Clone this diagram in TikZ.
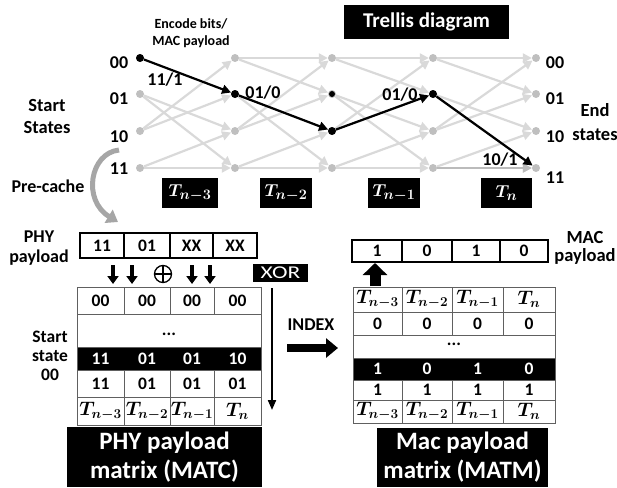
\documentclass[tikz,border=0pt]{standalone}
\usepackage{amsmath,bm}
\usepackage{fontspec}
\setmainfont{Carlito}
\usetikzlibrary{arrows.meta}
\definecolor{edgegray}{HTML}{D9D9D9}
\definecolor{dotgray}{HTML}{BFBFBF}
\definecolor{midgray}{HTML}{BBBBBB}
\definecolor{linegray}{HTML}{606060}
\definecolor{cachegray}{HTML}{A6A6A6}
\newcommand{\fs}[1]{\fontsize{#1}{#1}\selectfont}
\newcommand{\tT}[1]{\scalebox{1.13}{$\bm{T_{#1}}$}}
\tikzset{
  lbl/.style={font=\fs{18}\bfseries, inner sep=0},
  biglbl/.style={font=\fontsize{18}{20}\selectfont\bfseries, inner sep=0, align=center},
  gdot/.style={circle, fill=dotgray, minimum size=8pt, inner sep=0},
  bdot/.style={circle, fill=black, minimum size=8pt, inner sep=0},
  gedge/.style={draw=edgegray, line width=2.2pt, -{Triangle[length=9pt,width=9pt]}},
  bedge/.style={draw=black, line width=2.2pt, -{Triangle[length=9pt,width=9pt]}},
  tbox/.style={fill=black, text=white, inner sep=0, minimum height=30pt, font=\fs{19}},
  pcell/.style={draw=black, line width=2.5pt, inner sep=0, font=\fs{17.5}\bfseries},
  mline/.style={draw=linegray, line width=1pt},
  celltxt/.style={inner sep=0, font=\fs{17.5}\bfseries},
  ttxt/.style={inner sep=0, font=\fs{17.28}},
  darrow/.style={line width=3.5pt, -{Triangle[length=8pt,width=11pt]}},
  bigbox/.style={fill=black, text=white, inner sep=0, align=center, font=\fontsize{25}{29}\selectfont\bfseries}
}
\begin{document}
\begin{tikzpicture}[x=1pt,y=-1pt]
\useasboundingbox (0,0) rectangle (617,487);
% ---------- Trellis ----------
\foreach \c/\x in {0/140,1/235,2/332,3/433,4/536}
  \foreach \r/\y in {0/58,1/94,2/131,3/168}
    \node[gdot] (n\c\r) at (\x,\y) {};
% stage 0 (no 00->00)
\foreach \a/\b in {1/2,1/3,2/0,2/1,3/2,3/3}
  \draw[gedge] (n0\a) -- (n1\b);
\foreach \c/\d in {1/2,2/3,3/4}
  \foreach \a/\b in {0/0,0/1,1/2,1/3,2/0,2/1,3/2,3/3}
    \draw[gedge] (n\c\a) -- (n\d\b);
\draw[gedge, draw=midgray] (n33) -- (n43);
% black path
\node[bdot] at (n00) {};
\node[bdot] at (n11) {};
\node[bdot] at (n22) {};
\node[bdot] at (n31) {};
\node[bdot, minimum size=6pt] at (n21) {};
\draw[bedge] (n00) -- (n11);
\draw[bedge] (n11) -- (n22);
\draw[bedge] (n22) -- (n31);
\draw[bedge] (n31) -- (n43);
% edge labels
\node[lbl] (l1) at (165,80) {11/1};
\node[lbl] (l2) at (263,93) {01/0};
\node[lbl] (l3) at (400,95) {01/0};
\node[lbl] (l4) at (500,160) {10/1};
% state labels
\foreach \t/\y [count=\i] in {00/63,01/99,10/137,11/169}
  \node[lbl] (ls\i) at (119,\y) {\t};
\foreach \t/\y [count=\i] in {00/63,01/99,10/137,11/178}
  \node[lbl] (le\i) at (555,\y) {\t};
\node[biglbl, font=\fontsize{18.5}{22}\selectfont\bfseries] (st) at (47,117) {Start\\States};
\node[biglbl, font=\fontsize{18.5}{24}\selectfont\bfseries] (en) at (595,122) {End\\states};
\node[biglbl, font=\fontsize{14}{17}\selectfont\bfseries] (enc) at (191,33) {Encode bits/\\MAC payload};
\node[fill=black, text=white, inner sep=0, minimum width=165pt, minimum height=34pt, font=\fs{21}\bfseries] (tr) at (426.5,22) {Trellis diagram};
% T boxes
\node[tbox, minimum width=56pt] (t1) at (190,193) {$\bm{T_{n-3}}$};
\node[tbox, minimum width=52pt] (t2) at (286,193) {$\bm{T_{n-2}}$};
\node[tbox, minimum width=52pt] (t3) at (394,193) {$\bm{T_{n-1}}$};
\node[tbox, minimum width=51pt] (t4) at (506.5,193) {$\bm{T_{n}}$};
% Pre-cache
\node[biglbl] (pc) at (48,186) {Pre-cache};
\coordinate (pcs) at (119,150);
\coordinate (pce) at (118,222);
\draw[line width=5pt, cachegray, -{Triangle[length=11pt,width=15pt]}] (pcs) .. controls (90,153) and (82,200) .. (pce);
% ---------- PHY payload ----------
\node[biglbl] (phyl) at (39,248) {PHY\\payload};
\node[pcell, minimum width=44pt, minimum height=25pt] (p1) at (102,245.5) {11};
\node[pcell, minimum width=46pt, minimum height=25pt] (p2) at (147,245.5) {01};
\node[pcell, minimum width=43pt, minimum height=25pt] (p3) at (191.5,245.5) {XX};
\node[pcell, minimum width=44pt, minimum height=25pt] (p4) at (235,245.5) {XX};
\foreach \x [count=\i] in {113,132,192,210}{
  \coordinate (da\i) at (\x,265);
  \coordinate (db\i) at (\x,284);
  \draw[darrow] (da\i) -- (db\i);
}
\node[circle, draw, line width=1.3pt, minimum size=17pt, inner sep=0,
  path picture={\draw[line width=1.3pt] (path picture bounding box.north) -- (path picture bounding box.south) (path picture bounding box.west) -- (path picture bounding box.east);}] (xo) at (163,274) {};
\node[fill=black, text=white, inner sep=0, minimum width=55pt, minimum height=18pt, font=\fs{18}] (xor) at (280.5,273) {\scalebox{1.3}[1]{XOR}};
% left matrix
\fill (77,347) rectangle (261,370);
\draw[mline] (77,287) rectangle (261,425);
\foreach \y in {314,347,370,397} \draw[mline] (77,\y) -- (261,\y);
\foreach \x in {124,170,214} {
  \draw[mline] (\x,287) -- (\x,314);
  \draw[mline] (\x,370) -- (\x,425);
}
\foreach \x/\a/\b/\c [count=\i] in {100.5/00/11/11, 147/00/01/01, 192/00/01/01, 237.5/00/10/01}{
  \node[celltxt] (ma\i) at (\x,300.5) {\a};
  \node[celltxt, text=white] (mb\i) at (\x,358.5) {\b};
  \node[celltxt] (mc\i) at (\x,383.5) {\c};
}
\node[celltxt] (mdots) at (169,334) {...};
\node[ttxt] (mt1) at (100.5,411) {\tT{n-3}};
\node[ttxt] (mt2) at (147,411) {\tT{n-2}};
\node[ttxt] (mt3) at (192,411) {\tT{n-1}};
\node[ttxt] (mt4) at (237.5,411) {\tT{n}};
\coordinate (va) at (272,288);
\coordinate (vb) at (272,410);
\draw[line width=2pt, -{Triangle[length=10pt,width=8pt]}] (va) -- (vb);
\node[biglbl, font=\fontsize{17.5}{19}\selectfont\bfseries] (ss) at (50,356) {Start\\state\\00};
\node[bigbox, minimum width=195pt, minimum height=60pt] (bl) at (164.5,457) {PHY payload\\matrix (MATC)};
% INDEX
\node[biglbl] (idx) at (311,325) {INDEX};
\coordinate (ia) at (287,348);
\coordinate (ib) at (338,348);
\draw[line width=8pt, -{Triangle[length=12pt,width=19pt]}] (ia) -- (ib);
% ---------- MAC payload ----------
\node[biglbl, font=\fontsize{18.5}{18}\selectfont\bfseries] (macl) at (585,248) {MAC\\payload};
\node[pcell, minimum width=50pt, minimum height=22pt] (m1) at (377,251) {1};
\node[pcell, minimum width=50pt, minimum height=22pt] (m2) at (427,251) {0};
\node[pcell, minimum width=48pt, minimum height=22pt] (m3) at (476,251) {1};
\node[pcell, minimum width=48pt, minimum height=22pt] (m4) at (524,251) {0};
\coordinate (ua) at (375,286);
\coordinate (ub) at (375,263);
\draw[line width=11pt, -{Triangle[length=12pt,width=24pt]}] (ua) -- (ub);
% right matrix
\fill (353,358) rectangle (555,380);
\draw[mline] (353,287) rectangle (555,423);
\foreach \y in {312,335,358,380,400} \draw[mline] (353,\y) -- (555,\y);
\foreach \x in {402,452,503} {
  \draw[mline] (\x,287) -- (\x,335);
  \draw[mline] (\x,380) -- (\x,423);
}
\foreach \x/\a/\b/\c [count=\i] in {377.5/0/1/1, 427/0/0/1, 477.5/0/1/1, 529/0/0/1}{
  \node[celltxt] (ra\i) at (\x,323.5) {\a};
  \node[celltxt, text=white] (rb\i) at (\x,369) {\b};
  \node[celltxt] (rc\i) at (\x,390) {\c};
}
\node[celltxt] (rdots) at (454,344) {...};
\foreach \x/\s [count=\i] in {377.5/n-3, 427/n-2, 477.5/n-1, 529/n}{
  \node[ttxt] (rt\i) at (\x,299.5) {\tT{\s}};
  \node[ttxt] (rs\i) at (\x,411.5) {\tT{\s}};
}
\node[bigbox, minimum width=171pt, minimum height=59pt] (br) at (462.5,457.5) {Mac payload\\matrix (MATM)};
\end{tikzpicture}
\end{document}
